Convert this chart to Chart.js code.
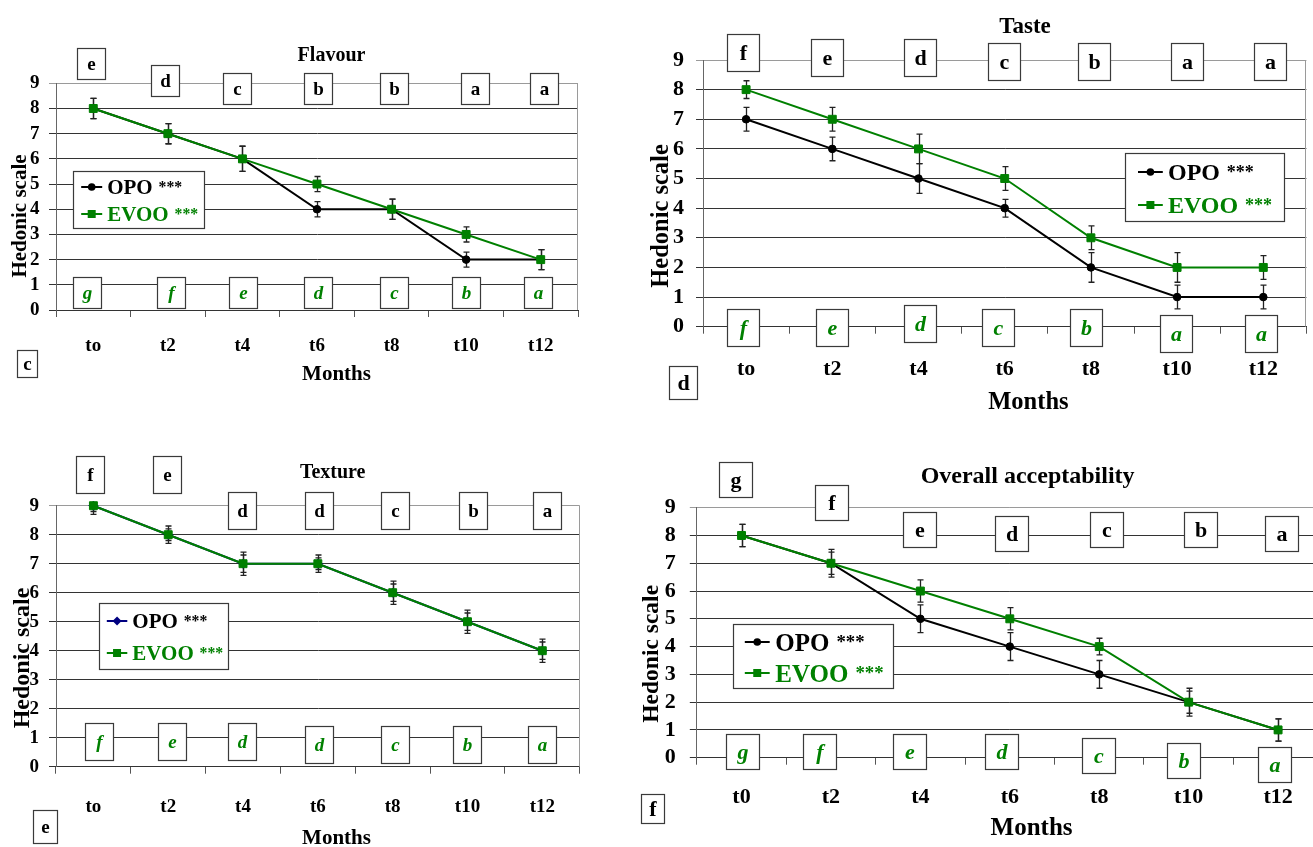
<!DOCTYPE html>
<html><head><meta charset="utf-8">
<script src="https://cdn.jsdelivr.net/npm/chart.js@4"></script>
<style>
html,body{margin:0;padding:0;background:#fff;overflow:hidden;width:1313px;height:847px;position:relative}
canvas{position:absolute;display:block}
</style></head><body>
<canvas id="c1"></canvas><canvas id="c2"></canvas><canvas id="c3"></canvas><canvas id="c4"></canvas>
<script>
// ---------- DATA ----------
const monthsA = ['to','t2','t4','t6','t8','t10','t12'];
const monthsB = ['t0','t2','t4','t6','t8','t10','t12'];

const flavourOPO = [8,7,6,4,4,2,2];
const flavourEVOO = [8,7,6,5,4,3,2];
const flavourOPOErr = [0.4,0.4,0.5,0.3,0.4,0.3,0.4];
const flavourEVOOErr = [0.4,0.4,0.5,0.3,0.4,0.3,0.4];
const flavourTopLetters = ['e','d','c','b','b','a','a'];
const flavourBottomLetters = ['g','f','e','d','c','b','a'];

const tasteOPO = [7,6,5,4,2,1,1];
const tasteEVOO = [8,7,6,5,3,2,2];
const tasteOPOErr = [0.4,0.4,0.5,0.3,0.5,0.4,0.4];
const tasteEVOOErr = [0.3,0.4,0.5,0.4,0.4,0.5,0.4];
const tasteTopLetters = ['f','e','d','c','b','a','a'];
const tasteBottomLetters = ['f','e','d','c','b','a','a'];

const textureOPO = [9,8,7,7,6,5,4];
const textureEVOO = [9,8,7,7,6,5,4];
const textureOPOErr = [0.3,0.3,0.4,0.3,0.4,0.4,0.4];
const textureEVOOErr = [0.2,0.2,0.3,0.2,0.3,0.3,0.3];
const textureTopLetters = ['f','e','d','d','c','b','a'];
const textureBottomLetters = ['f','e','d','d','c','b','a'];

const overallOPO = [8,7,5,4,3,2,1];
const overallEVOO = [8,7,6,5,4,2,1];
const overallOPOErr = [0.4,0.5,0.5,0.5,0.5,0.5,0.4];
const overallEVOOErr = [0.4,0.4,0.4,0.4,0.3,0.4,0.4];
const overallTopLetters = ['g','f','e','d','c','b','a'];
const overallBottomLetters = ['g','f','e','d','c','b','a'];

const yTicks = [0,1,2,3,4,5,6,7,8,9];

// ---------- LAYOUT ----------
const SERIF = "'Liberation Serif', 'DejaVu Serif', serif";
const GREEN = '#008000';

const layouts = [
 { id:'c1', canvas:{x:0,y:0,w:630,h:430}, area:{l:56,r:578,t:83.3,b:310},
   title:{text:'Flavour',x:331.5,y:56,size:20}, xTitle:{x:336.5,y:375,size:21}, yTitle:{x:21,y:216,size:21},
   tick:19, yPad:9.5, xPad:18, box:{w:27.5,h:31,font:19},
   topLevels:[9.78,9.13,8.78,8.78,8.78,8.78,8.78], topDx:[-2.3,-3.4,-5.3,0.5,2.4,8.9,3.1],
   botLevels:[0.71,0.71,0.71,0.71,0.71,0.71,0.71], botDx:[-6.2,3,0.3,0.5,2.4,-0.8,-3.1],
   legend:{x1:73,y1:171,x2:204,y2:228,size:21,line:[7.7,28.7],text:33.7},
   corner:{text:'c',x1:17.3,y1:350,x2:37.3,y2:377,size:19} },
 { id:'c2', canvas:{x:630,y:0,w:683,h:430}, area:{l:703,r:1311,t:60,b:326.7},
   title:{text:'Taste',x:1025,y:26.7,size:23}, xTitle:{x:1028.4,y:402.3,size:24.5}, yTitle:{x:661.5,y:216,size:24.5},
   tick:22, yPad:12, xPad:22, box:{w:32,h:37,font:22},
   topLevels:[9.25,9.08,9.08,8.95,8.95,8.95,8.95], topDx:[-3.4,-4.9,1.2,-0.9,3.1,9.5,6.8],
   botLevels:[-0.03,-0.03,0.11,-0.03,-0.03,-0.23,-0.23], botDx:[-3.4,-0.4,1.8,-6.3,-5.1,-1.4,-2.2],
   legend:{x1:1125.4,y1:153,x2:1284.6,y2:221,size:24,line:[12.5,37.3],text:42.5},
   corner:{text:'d',x1:669.2,y1:366,x2:696.7,y2:398.7,size:22} },
 { id:'c3', canvas:{x:0,y:430,w:630,h:417}, area:{l:56,r:579.7,t:505.7,b:766.7},
   title:{text:'Texture',x:332.7,y:473.3,size:20}, xTitle:{x:336.5,y:838.3,size:21}, yTitle:{x:22.3,y:658,size:24},
   tick:19, yPad:10, xPad:22.3, box:{w:27.7,h:36.5,font:19},
   topLevels:[10.09,10.09,8.84,8.84,8.84,8.84,8.84], topDx:[-3.9,-1.8,-0.8,0.9,1.9,5.5,4.7],
   botLevels:[0.89,0.89,0.89,0.77,0.77,0.77,0.77], botDx:[5.3,3.2,-0.8,0.9,1.9,-1,-0.2],
   legend:{x1:99.2,y1:603.3,x2:228.5,y2:669.5,size:21,line:[7.3,27.8],text:32.8},
   corner:{text:'e',x1:32.7,y1:810,x2:56.5,y2:843.3,size:19} },
 { id:'c4', canvas:{x:630,y:430,w:700,h:417}, area:{l:696.8,r:1322.8,t:507.7,b:757.7},
   title:{text:'Overall acceptability',x:1027.6,y:476.7,size:24}, xTitle:{x:1031.6,y:828.3,size:25}, yTitle:{x:651.8,y:653.8,size:23.5},
   tick:22, yPad:14, xPad:19.4, box:{w:33.3,h:34.5,font:22},
   topLevels:[10.01,9.18,8.23,8.08,8.23,8.23,8.08], topDx:[-6,0.4,-1,2.2,7.8,11.8,3.1],
   botLevels:[0.23,0.23,0.23,0.23,0.09,-0.08,-0.25], botDx:[1.4,-11.2,-10.8,-7.8,-0.3,-4.9,-3.6],
   legend:{x1:733.2,y1:624.3,x2:893.5,y2:688.7,size:25,line:[11.3,36.2],text:41.8},
   corner:{text:'f',x1:640.9,y1:794,x2:664,y2:823.3,size:22} }
];

const panels = [
 { labels:monthsA, opo:flavourOPO, evoo:flavourEVOO, opoErr:flavourOPOErr, evooErr:flavourEVOOErr, top:flavourTopLetters, bottom:flavourBottomLetters, opoColor:'#000', opoStyle:'circle' },
 { labels:monthsA, opo:tasteOPO, evoo:tasteEVOO, opoErr:tasteOPOErr, evooErr:tasteEVOOErr, top:tasteTopLetters, bottom:tasteBottomLetters, opoColor:'#000', opoStyle:'circle' },
 { labels:monthsA, opo:textureOPO, evoo:textureEVOO, opoErr:textureOPOErr, evooErr:textureEVOOErr, top:textureTopLetters, bottom:textureBottomLetters, opoColor:'#000080', opoStyle:'rectRot' },
 { labels:monthsB, opo:overallOPO, evoo:overallEVOO, opoErr:overallOPOErr, evooErr:overallEVOOErr, top:overallTopLetters, bottom:overallBottomLetters, opoColor:'#000', opoStyle:'circle' }
];

// ---------- PLUGIN ----------
function drawMarker(ctx, style, x, y, color) {
  ctx.fillStyle = color;
  ctx.beginPath();
  if (style === 'circle') { ctx.arc(x, y, 3.8, 0, Math.PI*2); }
  else if (style === 'rectRot') { ctx.moveTo(x, y-4.5); ctx.lineTo(x+4.5, y); ctx.lineTo(x, y+4.5); ctx.lineTo(x-4.5, y); ctx.closePath(); }
  else { ctx.rect(x-4, y-4, 8, 8); }
  ctx.fill();
}

const panelPlugin = {
  id: 'panel',
  beforeDatasetsDraw(chart, args, o) {
    const ctx = chart.ctx, a = chart.chartArea, xs = chart.scales.x, ys = chart.scales.y;
    ctx.save();
    ctx.beginPath(); ctx.rect(a.left, a.top - 1, a.right - a.left, a.bottom - a.top + 2); ctx.clip();
    ctx.strokeStyle = '#222'; ctx.lineWidth = 1.3;
    chart.data.datasets.forEach(ds => {
      ds.errors.forEach((e, i) => {
        const px = Math.round(xs.getPixelForValue(i)) + 0.5;
        const v = ds.data[i];
        const y1 = ys.getPixelForValue(v + e), y2 = ys.getPixelForValue(v - e);
        ctx.beginPath();
        ctx.moveTo(px, y1); ctx.lineTo(px, y2);
        ctx.moveTo(px - 3, y1); ctx.lineTo(px + 3, y1);
        ctx.moveTo(px - 3, y2); ctx.lineTo(px + 3, y2);
        ctx.stroke();
      });
    });
    ctx.restore();
  },
  afterDraw(chart, args, o) {
    const ctx = chart.ctx, a = chart.chartArea, xs = chart.scales.x, ys = chart.scales.y;
    const ox = o.canvas.x, oy = o.canvas.y;
    ctx.save();
    // right border
    ctx.strokeStyle = '#9a9a9a'; ctx.lineWidth = 1;
    const rx = Math.round(a.right) - 0.5;
    ctx.beginPath(); ctx.moveTo(rx, a.top); ctx.lineTo(rx, a.bottom); ctx.stroke();

    const drawBox = (cx, cy, w, h, t, font, color) => {
      const x1 = Math.round(cx - w/2) + 0.5, y1 = Math.round(cy - h/2) + 0.5;
      const ww = Math.round(w), hh = Math.round(h);
      ctx.fillStyle = '#fff'; ctx.fillRect(x1, y1, ww, hh);
      ctx.strokeStyle = '#3a3a3a'; ctx.lineWidth = 1.2; ctx.strokeRect(x1, y1, ww, hh);
      ctx.fillStyle = color; ctx.font = font; ctx.textAlign = 'center'; ctx.textBaseline = 'middle';
      ctx.fillText(t, x1 + ww/2, y1 + hh/2 + 1);
    };
    o.top.forEach((t, i) => drawBox(xs.getPixelForValue(i) + o.topDx[i], ys.getPixelForValue(o.topLevels[i]),
      o.box.w, o.box.h, t, `bold ${o.box.font}px ${SERIF}`, '#000'));
    o.bottom.forEach((t, i) => drawBox(xs.getPixelForValue(i) + o.botDx[i], ys.getPixelForValue(o.botLevels[i]),
      o.box.w, o.box.h, t, `italic bold ${o.box.font}px ${SERIF}`, GREEN));

    // legend
    const L = o.legend;
    const lx = Math.round(L.x1 - ox) + 0.5, ly = Math.round(L.y1 - oy) + 0.5;
    const lw = Math.round(L.x2 - L.x1), lh = Math.round(L.y2 - L.y1);
    ctx.fillStyle = '#fff'; ctx.fillRect(lx, ly, lw, lh);
    ctx.strokeStyle = '#3a3a3a'; ctx.lineWidth = 1.2; ctx.strokeRect(lx, ly, lw, lh);
    chart.data.datasets.forEach((ds, k) => {
      const cy = Math.round(ly + lh * (k === 0 ? 0.27 : 0.75));
      ctx.strokeStyle = ds.borderColor; ctx.lineWidth = 2;
      ctx.beginPath(); ctx.moveTo(lx + L.line[0], cy); ctx.lineTo(lx + L.line[1], cy); ctx.stroke();
      drawMarker(ctx, ds.pointStyle, lx + (L.line[0] + L.line[1]) / 2, cy, ds.borderColor);
      const parts = ds.label.split(' ');
      ctx.fillStyle = k === 0 ? '#000' : GREEN;
      ctx.textAlign = 'left'; ctx.textBaseline = 'alphabetic';
      ctx.font = `bold ${L.size}px ${SERIF}`;
      const base = cy + L.size * 0.34;
      ctx.fillText(parts[0], lx + L.text, base);
      const w = ctx.measureText(parts[0]).width;
      ctx.font = `bold ${L.size * 0.75}px ${SERIF}`;
      ctx.fillText(parts[1], lx + L.text + w + L.size * 0.28, base - L.size * 0.11);
    });

    // titles
    ctx.fillStyle = '#000'; ctx.textAlign = 'center'; ctx.textBaseline = 'middle';
    ctx.font = `bold ${o.title.size}px ${SERIF}`;
    ctx.fillText(o.title.text, o.title.x - ox, o.title.y - oy);
    ctx.font = `bold ${o.xTitle.size}px ${SERIF}`;
    ctx.fillText('Months', o.xTitle.x - ox, o.xTitle.y - oy);

    // corner letter box
    const C = o.corner;
    drawBox((C.x1 + C.x2)/2 - ox, (C.y1 + C.y2)/2 - oy, C.x2 - C.x1, C.y2 - C.y1, C.text, `bold ${C.size}px ${SERIF}`, '#000');

    // y title
    ctx.save();
    ctx.translate(o.yTitle.x - ox, o.yTitle.y - oy); ctx.rotate(-Math.PI / 2);
    ctx.fillStyle = '#000'; ctx.textAlign = 'center'; ctx.textBaseline = 'middle';
    ctx.font = `bold ${o.yTitle.size}px ${SERIF}`;
    ctx.fillText('Hedonic scale', 0, 0);
    ctx.restore();
    ctx.restore();
  }
};

// ---------- BUILD ----------
layouts.forEach((Lo, idx) => {
  const P = panels[idx];
  const cv = document.getElementById(Lo.id);
  cv.width = Lo.canvas.w; cv.height = Lo.canvas.h;
  cv.style.left = Lo.canvas.x + 'px'; cv.style.top = Lo.canvas.y + 'px';
  cv.style.width = Lo.canvas.w + 'px'; cv.style.height = Lo.canvas.h + 'px';
  const yW = Lo.area.l - Lo.canvas.x;
  const xH = Lo.canvas.h - (Lo.area.b - Lo.canvas.y);
  new Chart(cv, {
    type: 'line',
    data: {
      labels: P.labels,
      datasets: [
        { label: 'OPO ***', data: P.opo, errors: P.opoErr, borderColor: P.opoColor, backgroundColor: P.opoColor, order: 1,
          pointStyle: P.opoStyle, pointRadius: P.opoStyle === 'circle' ? 3.8 : 4.5, pointBorderWidth: 1, borderWidth: 2, tension: 0, clip: false },
        { label: 'EVOO ***', data: P.evoo, errors: P.evooErr, borderColor: GREEN, backgroundColor: GREEN, order: 0,
          pointStyle: 'rect', pointRadius: 5.6, pointBorderWidth: 1, borderWidth: 2, tension: 0, clip: false }
      ]
    },
    options: {
      responsive: false, animation: false, devicePixelRatio: 1,
      layout: { padding: { left: 0, top: Lo.area.t - Lo.canvas.y, right: Lo.canvas.w - (Lo.area.r - Lo.canvas.x), bottom: 0 } },
      plugins: { legend: { display: false }, tooltip: { enabled: false }, panel: Object.assign({}, Lo, { top: P.top, bottom: P.bottom }) },
      scales: {
        x: {
          type: 'category', offset: true,
          grid: { offset: true, drawOnChartArea: false, drawTicks: true, tickLength: 7, color: '#555' },
          border: { display: true, color: '#333' },
          ticks: { color: '#000', font: { family: SERIF, size: Lo.tick, weight: 'bold' }, padding: Lo.xPad, maxRotation: 0, autoSkip: false },
          afterFit(s) { s.height = xH; }
        },
        y: {
          min: 0, max: 9,
          afterBuildTicks(s) { s.ticks = yTicks.map(v => ({ value: v })); },
          grid: { color: c => (c.tick && c.tick.value === 9 ? '#9a9a9a' : '#333'), tickLength: 7, drawTicks: true },
          border: { display: true, color: '#666' },
          ticks: { color: '#000', font: { family: SERIF, size: Lo.tick, weight: 'bold' }, padding: Lo.yPad, autoSkip: false, stepSize: 1 },
          afterFit(s) { s.width = yW; }
        }
      }
    },
    plugins: [panelPlugin]
  });
});
</script>
</body></html>
